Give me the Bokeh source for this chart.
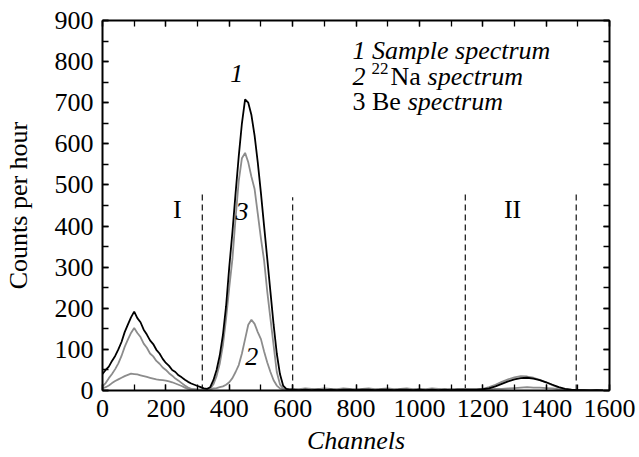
from bokeh.plotting import figure
from bokeh.models import FixedTicker, LinearAxis, Label, CustomJSTickFormatter, Range1d
from bokeh.embed import file_html
from bokeh.resources import INLINE

# ---------------- data ----------------
channels = list(range(0, 600, 10)) + list(range(600, 1600, 20))

sample = [40, 50, 58, 72, 84, 100, 118, 142, 160, 178,
          192, 176, 166, 148, 136, 122, 113, 99, 90, 77,
          67, 60, 50, 45, 37, 32, 26, 21, 17, 14,
          11, 8, 5, 4, 8, 25, 50, 85, 135, 205,
          300, 385, 480, 570, 650, 708, 700, 670, 620, 555,
          480, 400, 320, 240, 160, 90, 40, 12, 4, 2,
          # 600 .. 1580 step 20
          2, 1, 2, 1, 2, 1, 2, 1, 2, 2,
          1, 2, 2, 1, 2, 2, 1, 2, 2, 1,
          2, 1, 2, 1, 2, 1, 2, 2, 2, 2,
          3, 5, 10, 16, 22, 27, 30, 31, 29, 25,
          20, 14, 8, 4, 2, 1, 1, 0, 1, 0]

na22 = [5, 8, 12, 18, 23, 27, 31, 35, 38, 41,
        40, 39, 37, 35, 33, 31, 29, 27, 26, 25,
        24, 22, 20, 17, 14, 11, 7, 4, 3, 2,
        2, 2, 2, 2, 3, 5, 6, 8, 10, 14,
        20, 30, 45, 62, 90, 125, 160, 172, 162, 142,
        125, 95, 68, 45, 25, 12, 5, 3, 2, 2,
        # 600 .. 1580 step 20
        2, 2, 3, 2, 2, 3, 2, 2, 3, 2,
        2, 3, 2, 2, 3, 2, 2, 3, 2, 2,
        3, 2, 2, 3, 2, 2, 3, 2, 2, 2,
        4, 8, 14, 21, 27, 32, 35, 34, 31, 26,
        20, 13, 7, 3, 1, 1, 0, 0, 0, 0]

be = [10, 18, 30, 40, 52, 66, 84, 106, 124, 140,
      152, 140, 130, 114, 104, 90, 83, 72, 65, 56,
      50, 42, 36, 29, 24, 18, 12, 7, 4, 3,
      2, 2, 2, 3, 4, 15, 35, 65, 110, 175,
      250, 320, 420, 510, 565, 578, 555, 520, 490, 430,
      370, 316, 240, 175, 110, 45, 15, 5, 3, 3,
      # 600 .. 1580 step 20
      4, 3, 5, 4, 3, 5, 4, 3, 5, 4,
      3, 4, 5, 3, 4, 5, 3, 4, 5, 3,
      4, 3, 5, 4, 3, 4, 3, 4, 3, 3,
      3, 3, 4, 4, 5, 6, 7, 8, 7, 7,
      6, 5, 3, 2, 1, 1, 1, 1, 1, 1]

boundaries = [315, 600, 1145, 1495]
boundary_tops = [480, 470, 480, 480]
boundary_bottoms = [0, 0, 0, 0]

x_ticks = [0, 200, 400, 600, 800, 1000, 1200, 1400, 1600]
x_minor = [0, 100, 200, 300, 400, 500, 600, 700, 800, 900, 1000,
           1100, 1200, 1300, 1400, 1500, 1600]
y_ticks = [0, 100, 200, 300, 400, 500, 600, 700, 800, 900]
y_minor = [0, 50, 100, 150, 200, 250, 300, 350, 400, 450, 500,
           550, 600, 650, 700, 750, 800, 850, 900]

# ---------------- figure ----------------
FONT = "Liberation Serif"
FS = "26px"
GREY = "#8c8c8c"

p = figure(width=639, height=457, x_range=Range1d(0, 1600), y_range=Range1d(0, 900),
           output_backend="svg", toolbar_location=None,
           min_border_left=102, min_border_right=30, min_border_top=20, min_border_bottom=67)
p.grid.visible = False
p.outline_line_color = None
p.background_fill_color = "white"
p.border_fill_color = "white"


def style_axis(ax, ticks, minor):
    ax.ticker = FixedTicker(ticks=ticks, minor_ticks=minor)
    ax.axis_line_width = 2
    ax.axis_line_color = "black"
    ax.major_tick_in = 6
    ax.major_tick_out = 0
    ax.minor_tick_in = 6
    ax.minor_tick_out = 0
    ax.major_tick_line_width = 1.3
    ax.minor_tick_line_width = 1.3
    ax.major_label_text_font = FONT
    ax.major_label_text_font_size = FS
    ax.major_label_text_color = "black"
    ax.axis_label_text_font = FONT
    ax.axis_label_text_font_size = FS
    ax.axis_label_text_color = "black"


xa = p.xaxis[0]
style_axis(xa, x_ticks, x_minor)
xa.major_label_standoff = 9
xa.axis_label = "Channels"
xa.axis_label_text_font_style = "italic"
xa.axis_label_standoff = 6

ya = p.yaxis[0]
style_axis(ya, y_ticks, y_minor)
ya.major_label_standoff = 9
ya.axis_label = "Counts per hour"
ya.axis_label_text_font_style = "normal"
ya.axis_label_standoff = 19

top = LinearAxis()
style_axis(top, x_ticks, x_minor)
top.formatter = CustomJSTickFormatter(code="return ''")
top.major_label_text_font_size = "1px"
top.major_label_standoff = 0
p.add_layout(top, "above")

right = LinearAxis()
style_axis(right, y_ticks, y_minor)
right.formatter = CustomJSTickFormatter(code="return ''")
right.major_label_text_font_size = "1px"
right.major_label_standoff = 0
p.add_layout(right, "right")

# region boundaries
p.segment(x0=boundaries, y0=boundary_bottoms, x1=boundaries, y1=boundary_tops,
          line_color="#222222", line_width=1.3, line_dash="6 4")

# spectra
p.line(channels, na22, line_color=GREY, line_width=1.8)
p.line(channels, be, line_color=GREY, line_width=1.8)
p.line(channels, sample, line_color="black", line_width=1.8)


def lab(x, y, text, style="normal", size=FS, align="center"):
    p.add_layout(Label(x=x, y=y, text=text, text_font=FONT, text_font_size=size,
                       text_font_style=style, text_color="black",
                       text_align=align, text_baseline="alphabetic"))


# curve numbers and region marks
lab(424, 772, "1", "italic")
lab(440, 435, "3", "italic")
lab(471, 83, "2", "italic")
lab(236, 440, "I")
lab(1294, 440, "II")

# legend text
lab(789, 828, "1 Sample spectrum", "italic", align="left")
lab(789, 763, "2", "italic", align="left")
lab(849, 783, "22", "normal", size="17px", align="left")
lab(909, 763, "Na", "normal", align="left")
lab(1026, 763, "spectrum", "italic", align="left")
lab(789, 702, "3 Be", "normal", align="left")
lab(963, 702, "spectrum", "italic", align="left")

open("out.html", "w").write(file_html(p, INLINE))
